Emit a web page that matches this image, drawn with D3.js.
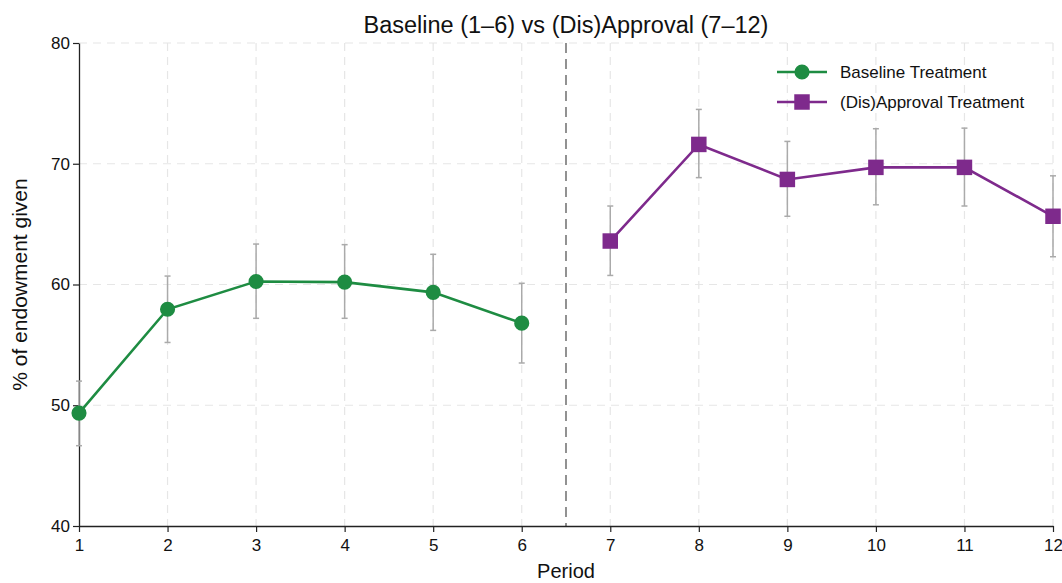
<!DOCTYPE html>
<html lang="en">
<head>
<meta charset="UTF-8">
<title>Baseline vs (Dis)Approval</title>
<script src="https://d3js.org/d3.v7.min.js"></script>
<style>
  body { margin: 0; background: #fff; }
  svg text { font-family: "Liberation Sans", Arial, Helvetica, sans-serif; fill: #111; }
</style>
</head>
<body>
<div id="chart"></div>
<script>
// data
var periods = [1, 2, 3, 4, 5, 6, 7, 8, 9, 10, 11, 12];
var yTicks = [40, 50, 60, 70, 80];

var basePeriods = [1, 2, 3, 4, 5, 6];
var baseMean  = [49.35, 57.95, 60.25, 60.2, 59.35, 56.8];
var baseLow   = [46.65, 55.2, 57.2, 57.2, 56.2, 53.5];
var baseHigh  = [52.0, 60.7, 63.35, 63.3, 62.5, 60.1];

var apprPeriods = [7, 8, 9, 10, 11, 12];
var apprMean  = [63.6, 71.6, 68.7, 69.7, 69.7, 65.65];
var apprLow   = [60.75, 68.85, 65.65, 66.6, 66.5, 62.3];
var apprHigh  = [66.5, 74.5, 71.85, 72.9, 72.95, 69.0];

var splitAt = 6.5;

var W = 1062, H = 583;
var margin = {top: 43, right: 9, bottom: 57, left: 79};
var width = W - margin.left - margin.right,
    height = H - margin.top - margin.bottom;

var green = "#1e8c42", purple = "#7e2a8c";

var svg = d3.select("#chart").append("svg")
    .attr("width", W).attr("height", H);

var g = svg.append("g")
    .attr("transform", "translate(" + margin.left + "," + margin.top + ")");

var x = d3.scaleLinear().domain([1, 12]).range([0, width]);
var y = d3.scaleLinear().domain([40, 80]).range([height, 0]);

// grid
g.selectAll(".hgrid").data(yTicks.filter(function(d) { return d > 40; }))
  .enter().append("line")
    .attr("x1", 0).attr("x2", width)
    .attr("y1", y).attr("y2", y)
    .attr("stroke", "#e6e6e6").attr("stroke-width", 1.2)
    .attr("stroke-dasharray", "8,6");

g.selectAll(".vgrid").data(periods.filter(function(d) { return d > 1; }))
  .enter().append("line")
    .attr("x1", x).attr("x2", x)
    .attr("y1", 0).attr("y2", height)
    .attr("stroke", "#e6e6e6").attr("stroke-width", 1.2)
    .attr("stroke-dasharray", "8,6");

// split line
g.append("line")
    .attr("x1", x(splitAt)).attr("x2", x(splitAt))
    .attr("y1", 0).attr("y2", height)
    .attr("stroke", "#777").attr("stroke-width", 1.6)
    .attr("stroke-dasharray", "10,6");

// axes
var xAxis = g.append("g")
    .attr("transform", "translate(0," + height + ")")
    .call(d3.axisBottom(x).tickValues(periods).tickFormat(d3.format("d")).tickSize(6).tickSizeOuter(0));
var yAxis = g.append("g")
    .call(d3.axisLeft(y).tickValues(yTicks).tickSize(6).tickSizeOuter(0));

[xAxis, yAxis].forEach(function(a) {
  a.select(".domain").attr("stroke", "#222").attr("stroke-width", 1.3);
  a.selectAll(".tick line").attr("stroke", "#222").attr("stroke-width", 1.2);
  a.selectAll("text").attr("font-size", 17).style("font-family", "'Liberation Sans', Arial, sans-serif").attr("fill", "#111");
});
xAxis.selectAll("text").attr("dy", "0.95em");

function drawSeries(ps, mean, lo, hi, color, shape) {
  var data = ps.map(function(p, i) { return {p: p, m: mean[i], lo: lo[i], hi: hi[i]}; });

  var eb = g.append("g");
  eb.selectAll(".bar").data(data).enter().append("line")
    .attr("x1", function(d) { return x(d.p); }).attr("x2", function(d) { return x(d.p); })
    .attr("y1", function(d) { return y(d.lo); }).attr("y2", function(d) { return y(d.hi); })
    .attr("stroke", "#aaa").attr("stroke-width", 1.5);
  ["lo", "hi"].forEach(function(k) {
    eb.selectAll(".cap" + k).data(data).enter().append("line")
      .attr("x1", function(d) { return x(d.p) - 3; }).attr("x2", function(d) { return x(d.p) + 3; })
      .attr("y1", function(d) { return y(d[k]); }).attr("y2", function(d) { return y(d[k]); })
      .attr("stroke", "#aaa").attr("stroke-width", 1.5);
  });

  g.append("path").datum(data)
    .attr("fill", "none").attr("stroke", color).attr("stroke-width", 2.6)
    .attr("d", d3.line().x(function(d) { return x(d.p); }).y(function(d) { return y(d.m); }));

  var sym = d3.symbol().type(shape).size(shape === d3.symbolCircle ? 180 : 240);
  g.selectAll(null).data(data).enter().append("path")
    .attr("d", sym)
    .attr("transform", function(d) { return "translate(" + x(d.p) + "," + y(d.m) + ")"; })
    .attr("fill", color);
}

drawSeries(basePeriods, baseMean, baseLow, baseHigh, green, d3.symbolCircle);
drawSeries(apprPeriods, apprMean, apprLow, apprHigh, purple, d3.symbolSquare);

// legend
var legendItems = [
  {label: "Baseline Treatment", color: green, shape: d3.symbolCircle},
  {label: "(Dis)Approval Treatment", color: purple, shape: d3.symbolSquare}
];
var legend = svg.append("g").attr("transform", "translate(777,72)");
legendItems.forEach(function(it, i) {
  var row = legend.append("g").attr("transform", "translate(0," + (i * 30) + ")");
  row.append("line").attr("x1", 0).attr("x2", 50).attr("y1", 0).attr("y2", 0)
    .attr("stroke", it.color).attr("stroke-width", 2.6);
  row.append("path").attr("d", d3.symbol().type(it.shape).size(it.shape === d3.symbolCircle ? 180 : 240))
    .attr("transform", "translate(25,0)").attr("fill", it.color);
  row.append("text").attr("x", 63).attr("y", 0).attr("dy", "0.35em")
    .attr("font-size", 17).text(it.label);
});

// titles
svg.append("text").attr("x", margin.left + x(splitAt)).attr("y", 33)
  .attr("text-anchor", "middle").attr("font-size", 23.5)
  .text("Baseline (1–6) vs (Dis)Approval (7–12)");

svg.append("text").attr("x", margin.left + x(splitAt)).attr("y", 578)
  .attr("text-anchor", "middle").attr("font-size", 20)
  .text("Period");

svg.append("text")
  .attr("transform", "translate(27," + (margin.top + y(60)) + ") rotate(-90)")
  .attr("text-anchor", "middle").attr("font-size", 21)
  .text("% of endowment given");
</script>
</body>
</html>
